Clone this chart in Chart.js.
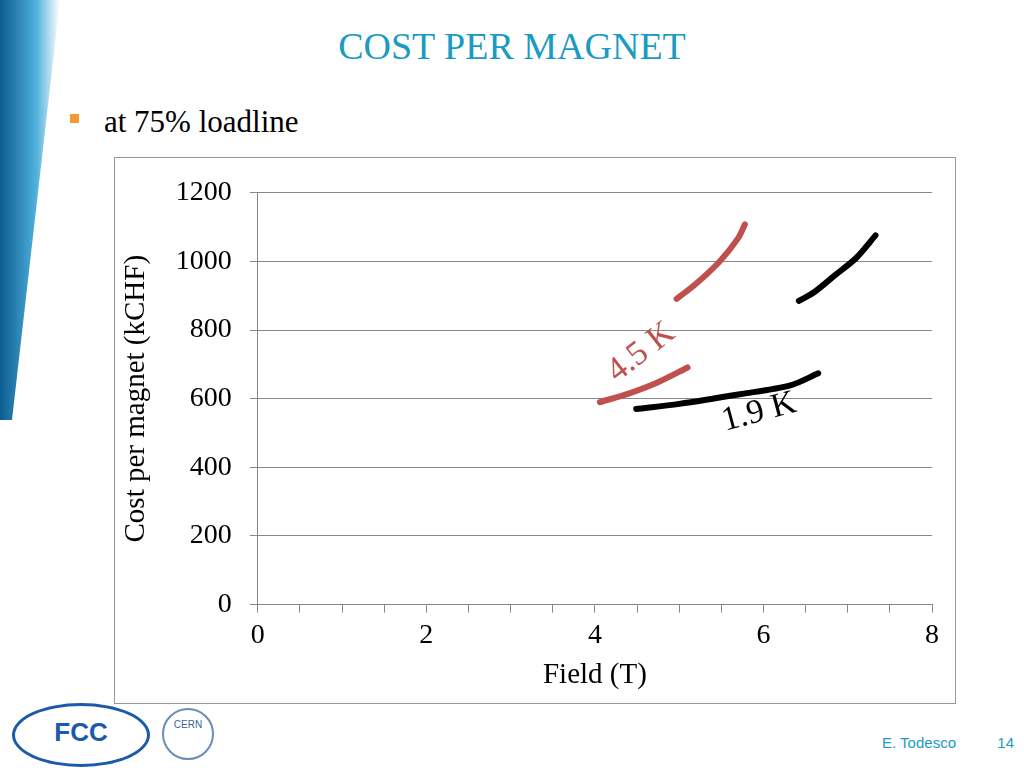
<!DOCTYPE html>
<html><head><meta charset="utf-8">
<script src="https://cdn.jsdelivr.net/npm/chart.js@4"></script>
<style>
body{margin:0;width:1024px;height:768px;background:#fff;position:relative;overflow:hidden}
.serif{font-family:'Liberation Serif','Times New Roman','DejaVu Serif',serif}
#title{position:absolute;top:24px;left:0;width:1024px;text-align:center;color:#1a9bc4;font-size:38px}
#bullet{position:absolute;top:104px;left:70px;font-size:31px;color:#000}
#bullet span{display:inline-block;width:9px;height:9px;background:#f29a2e;margin-right:25px;vertical-align:middle;position:relative;top:-6px}
#box{position:absolute;left:114px;top:157px;width:840px;height:545px;border:1px solid #999}
#deco{position:absolute;left:0;top:0;width:60px;height:420px;background:linear-gradient(90deg,#0b5c8f,#4fb0dc 60%,#fff);clip-path:polygon(0 0,100% 0,20% 100%,0 100%)}
#foot{position:absolute;right:68px;top:734px;font-family:"Liberation Sans";font-size:15px;color:#1a9bc4}
#pg{position:absolute;right:10px;top:734px;font-family:"Liberation Sans";font-size:15px;color:#1a9bc4}
#fcc{position:absolute;left:12px;top:703px;width:132px;height:58px;border-radius:50%;border:3px solid #1a5aa8;font-family:"Liberation Sans";font-weight:bold;font-size:26px;color:#1a5aa8;text-align:center;line-height:52px}
#cern{position:absolute;left:162px;top:708px;width:48px;height:48px;border-radius:50%;border:2px solid #6a8db8;font-family:"Liberation Sans";font-size:10px;color:#3a5f9a;text-align:center;line-height:30px}
</style></head><body>
<div id="deco"></div>
<div id="title" class="serif">COST PER MAGNET</div>
<div id="bullet" class="serif"><span></span>at 75% loadline</div>
<div id="box"><canvas id="c" width="840" height="545"></canvas></div>
<div id="fcc">FCC</div><div id="cern">CERN</div>
<div id="foot">E. Todesco</div><div id="pg">14</div>
<script>
const red45Low=[{x:4.06,y:590},{x:4.4,y:615},{x:4.75,y:648},{x:5.1,y:691}];
const red45High=[{x:4.97,y:891},{x:5.2,y:935},{x:5.48,y:1000},{x:5.7,y:1068},{x:5.78,y:1108}];
const black19Low=[{x:4.49,y:570},{x:5.0,y:585},{x:5.72,y:613},{x:6.32,y:639},{x:6.65,y:674}];
const black19High=[{x:6.42,y:885},{x:6.6,y:910},{x:6.85,y:960},{x:7.1,y:1010},{x:7.33,y:1076}];
const xTicks=[0,2,4,6,8];
const yTicks=[0,200,400,600,800,1000,1200];
const labels=[{t:"4.5 K",x:4.55,y:735,rot:-38,c:"#c0504d"},{t:"1.9 K",x:5.95,y:560,rot:-15,c:"#000"}];
const lbl={id:'lbl',afterDatasetsDraw(ch){const c=ch.ctx;labels.forEach(l=>{c.save();c.translate(ch.scales.x.getPixelForValue(l.x),ch.scales.y.getPixelForValue(l.y));c.rotate(l.rot*Math.PI/180);c.font='34px "Liberation Serif"';c.fillStyle=l.c;c.textAlign='center';c.textBaseline='middle';c.fillText(l.t,0,0);c.restore();});}};
const ds=(d,col)=>({data:d,borderColor:col,borderWidth:6,pointRadius:0,tension:0.3,fill:false,borderCapStyle:'round',showLine:true});
new Chart(document.getElementById('c'),{type:'scatter',
data:{datasets:[ds(red45Low,'#c0504d'),ds(red45High,'#c0504d'),ds(black19Low,'#000'),ds(black19High,'#000')]},
options:{responsive:false,animation:false,layout:{padding:{left:0,right:23,top:3,bottom:10}},
plugins:{legend:{display:false},tooltip:{enabled:false}},
scales:{
x:{type:'linear',min:0,max:8,ticks:{stepSize:0.5,autoSkip:false,maxRotation:0,color:'#000',padding:6,font:{family:'Liberation Serif',size:28},callback:v=>xTicks.includes(v)?String(v):''},
grid:{drawOnChartArea:false,tickLength:8,color:'#888'},border:{color:'#888'},
title:{display:true,text:'Field (T)',color:'#000',font:{family:'Liberation Serif',size:29},padding:0}},
y:{min:0,max:1200,ticks:{stepSize:200,color:'#000',padding:18,font:{family:'Liberation Serif',size:28},callback:v=>yTicks.includes(v)?String(v):''},
grid:{color:'#888',tickLength:8},border:{color:'#888'},
title:{display:true,text:'Cost per magnet (kCHF)',color:'#000',font:{family:'Liberation Serif',size:29},padding:4}}}},
plugins:[lbl]});
</script></body></html>
